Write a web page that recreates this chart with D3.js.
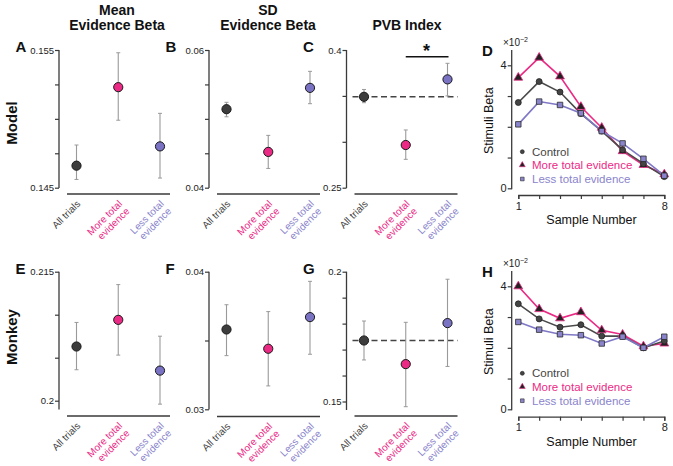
<!DOCTYPE html>
<html><head><meta charset="utf-8">
<script src="https://cdn.jsdelivr.net/npm/d3@7"></script>
<style>
body{margin:0;background:#fff;}
text{font-family:"Liberation Sans",Arial,Helvetica,sans-serif;}
</style></head>
<body><svg id="c" width="673" height="466"></svg>
<script>
// ---------- data ----------
const categories = ["All trials", "More total evidence", "Less total evidence"];
const categoryLines = [["All trials"], ["More total", "evidence"], ["Less total", "evidence"]];

const modelMean   = [0.1466, 0.1523, 0.1480];
const modelMeanLo = [0.1456, 0.1499, 0.1457];
const modelMeanHi = [0.1481, 0.1548, 0.1504];

const modelSD   = [0.0514, 0.0452, 0.0545];
const modelSDLo = [0.0503, 0.0428, 0.0522];
const modelSDHi = [0.0524, 0.0476, 0.0569];

const modelPVB   = [0.349, 0.2965, 0.368];
const modelPVBLo = [0.3426, 0.2809, 0.350];
const modelPVBHi = [0.357, 0.3129, 0.3855];

const monkeyMean   = [0.2063, 0.2094, 0.2035];
const monkeyMeanLo = [0.2036, 0.2053, 0.1996];
const monkeyMeanHi = [0.2091, 0.2135, 0.2075];

const monkeySD   = [0.0358, 0.0344, 0.0367];
const monkeySDLo = [0.0339, 0.0317, 0.0340];
const monkeySDHi = [0.0376, 0.0371, 0.0393];

const monkeyPVB   = [0.1735, 0.1644, 0.1802];
const monkeyPVBLo = [0.166, 0.148, 0.1635];
const monkeyPVBHi = [0.181, 0.1805, 0.1971];

const samples = [1, 2, 3, 4, 5, 6, 7, 8];
const seriesNames = ["Control", "More total evidence", "Less total evidence"];
// values in units of 1e-2
const modelControl = [2.79, 3.47, 3.13, 2.43, 1.86, 1.25, 0.80, 0.38];
const modelMore    = [3.60, 4.25, 3.64, 2.65, 1.97, 1.21, 0.76, 0.455];
const modelLess    = [2.08, 2.82, 2.71, 2.44, 1.86, 1.46, 0.96, 0.41];
const monkeyControl = [3.43, 2.94, 2.67, 2.75, 2.38, 2.38, 2.00, 2.22];
const monkeyMore    = [4.00, 3.26, 2.96, 3.16, 2.57, 2.43, 2.05, 2.14];
const monkeyLess    = [2.84, 2.59, 2.44, 2.41, 2.14, 2.36, 2.00, 2.36];

const yTicksA = [0.145, 0.1475, 0.15, 0.1525, 0.155], yLabA = ["0.145","","","","0.155"];
const yTicksB = [0.04, 0.045, 0.05, 0.055, 0.06], yLabB = ["0.04","","","","0.06"];
const yTicksC = [0.25, 0.3, 0.35, 0.4], yLabC = ["0.25","","","0.4"];
const yTicksE = [0.2, 0.205, 0.21, 0.215], yLabE = ["0.2","","","0.215"];
const yTicksF = [0.03, 0.035, 0.04], yLabF = ["0.03","","0.04"];
const yTicksG = [0.15, 0.16, 0.17, 0.18, 0.19, 0.2], yLabG = ["0.15","","","","","0.2"];
const lineTicks = [0, 1, 2, 3, 4], lineTickLab = ["0","","","","4"];

// ---------- styles ----------
const colDark = "#3d3d3d", colPink = "#ea2a84", colPurple = "#7a72c2";
const txtColors = ["#444", "#ec2a86", "#8a84cc"];
const fills = [colDark, colPink, colPurple];
const axisCol = "#3a3a3a";

const svg = d3.select("#c");

function dotPanel(o) {
  const g = svg.append("g");
  const y = d3.scaleLinear().domain(o.dom).range(o.rng);
  const x = d3.scalePoint().domain(categories).range([o.ax + 17.5, o.ax + 101]);
  const ax = d3.axisLeft(y).tickValues(o.ticks).tickSize(4)
    .tickFormat((d, i) => o.labs[i]);
  const ag = g.append("g").attr("transform", `translate(${o.ax},0)`).call(ax);
  ag.select(".domain").remove();
  ag.selectAll("line").attr("stroke", axisCol).attr("stroke-width", 1.2);
  ag.selectAll("text").attr("font-size", 9.5).attr("fill", "#222").attr("x", -5);
  g.append("line").attr("x1", o.ax).attr("x2", o.ax)
    .attr("y1", o.rng[1]).attr("y2", o.axBottom)
    .attr("stroke", axisCol).attr("stroke-width", 1.3);
  g.append("line").attr("x1", o.ax + 8).attr("x2", o.ax + 111)
    .attr("y1", o.xl).attr("y2", o.xl).attr("stroke", axisCol).attr("stroke-width", 1.3);
  categories.forEach((c, i) => {
    const t = g.append("text")
      .attr("transform", `translate(${x(c) + 2},${o.xl + 8}) rotate(-45)`)
      .attr("text-anchor", "end").attr("font-size", 10).attr("fill", txtColors[i]);
    categoryLines[i].forEach((ln, j) => {
      t.append("tspan").attr("x", 0).attr("dy", j === 0 ? "0.35em" : "1.05em").text(ln);
    });
  });
  if (o.dash) {
    g.append("line").attr("x1", o.ax + 6).attr("x2", o.ax + 111)
      .attr("y1", y(o.vals[0])).attr("y2", y(o.vals[0]))
      .attr("stroke", "#444").attr("stroke-width", 1.6).attr("stroke-dasharray", "6,3.5");
  }
  categories.forEach((c, i) => {
    const cx = x(c);
    g.append("line").attr("x1", cx).attr("x2", cx).attr("y1", y(o.lo[i])).attr("y2", y(o.hi[i]))
      .attr("stroke", "#9a9a9a").attr("stroke-width", 1.1);
    [o.lo[i], o.hi[i]].forEach(v => g.append("line").attr("x1", cx - 2).attr("x2", cx + 2)
      .attr("y1", y(v)).attr("y2", y(v)).attr("stroke", "#9a9a9a").attr("stroke-width", 1));
  });
  g.selectAll("circle.pt").data(o.vals).join("circle").attr("class", "pt")
    .attr("cx", (d, i) => x(categories[i])).attr("cy", d => y(d)).attr("r", 4.6)
    .attr("fill", (d, i) => fills[i]).attr("stroke", "#1a1a1a").attr("stroke-width", 1);
  svg.append("text").attr("x", o.ax - 43.5).attr("y", o.rng[1] + 2).attr("font-size", 15)
    .attr("font-weight", "bold").attr("fill", "#111").text(o.letter);
  return {x, y};
}

dotPanel({letter: "A", ax: 59, dom: [0.145, 0.155], rng: [187.7, 50], axBottom: 188, xl: 194,
  ticks: yTicksA, labs: yLabA, vals: modelMean, lo: modelMeanLo, hi: modelMeanHi});
dotPanel({letter: "B", ax: 209, dom: [0.04, 0.06], rng: [187.7, 50], axBottom: 188, xl: 194,
  ticks: yTicksB, labs: yLabB, vals: modelSD, lo: modelSDLo, hi: modelSDHi});
const pc = dotPanel({letter: "C", ax: 346.5, dom: [0.25, 0.4], rng: [187.7, 50], axBottom: 188, xl: 194,
  ticks: yTicksC, labs: yLabC, vals: modelPVB, lo: modelPVBLo, hi: modelPVBHi, dash: true});
dotPanel({letter: "E", ax: 59, dom: [0.2, 0.215], rng: [400.7, 271.7], axBottom: 409.5, xl: 416,
  ticks: yTicksE, labs: yLabE, vals: monkeyMean, lo: monkeyMeanLo, hi: monkeyMeanHi});
dotPanel({letter: "F", ax: 209, dom: [0.03, 0.04], rng: [409.3, 271.7], axBottom: 409.5, xl: 416.5,
  ticks: yTicksF, labs: yLabF, vals: monkeySD, lo: monkeySDLo, hi: monkeySDHi});
dotPanel({letter: "G", ax: 346.5, dom: [0.15, 0.2], rng: [401.5, 271.7], axBottom: 410, xl: 416,
  ticks: yTicksG, labs: yLabG, vals: monkeyPVB, lo: monkeyPVBLo, hi: monkeyPVBHi, dash: true});

const sx1 = pc.x(categories[1]), sx2 = pc.x(categories[2]);
svg.append("line").attr("x1", sx1).attr("x2", sx2 + 1).attr("y1", 56.7).attr("y2", 56.7)
  .attr("stroke", "#111").attr("stroke-width", 1.5);
svg.append("text").attr("x", (sx1 + sx2) / 2).attr("y", 57).attr("text-anchor", "middle")
  .attr("font-size", 18).attr("font-weight", "bold").attr("fill", "#111").text("*");

[["Mean", "Evidence Beta", 117], ["SD", "Evidence Beta", 268], [null, "PVB Index", 407]].forEach(t => {
  if (t[0]) svg.append("text").attr("x", t[2]).attr("y", 15).attr("text-anchor", "middle")
    .attr("font-size", 14).attr("font-weight", "bold").attr("fill", "#111").text(t[0]);
  svg.append("text").attr("x", t[2]).attr("y", 29.5).attr("text-anchor", "middle")
    .attr("font-size", 14).attr("font-weight", "bold").attr("fill", "#111").text(t[1]);
});
[["Model", 123], ["Monkey", 337]].forEach(r => {
  svg.append("text").attr("transform", `translate(16.5,${r[1]}) rotate(-90)`)
    .attr("text-anchor", "middle").attr("font-size", 15).attr("font-weight", "bold")
    .attr("fill", "#111").text(r[0]);
});

function linePanel(o) {
  const g = svg.append("g");
  const x = d3.scaleLinear().domain([1, 8]).range([518.3, 664.3]);
  const y = d3.scaleLinear().domain([0, 4.5]).range([o.y0, o.y0 - 4.5 * 30.75]);
  const ax = d3.axisLeft(y).tickValues(lineTicks).tickSize(4).tickFormat((d, i) => lineTickLab[i]);
  const ag = g.append("g").attr("transform", "translate(511.7,0)").call(ax);
  ag.select(".domain").remove();
  ag.selectAll("line").attr("stroke", axisCol).attr("stroke-width", 1.2);
  ag.selectAll("text").attr("font-size", 11).attr("fill", "#222").attr("x", -5);
  g.append("line").attr("x1", 511.7).attr("x2", 511.7).attr("y1", y(4.5)).attr("y2", y(0) + 1)
    .attr("stroke", axisCol).attr("stroke-width", 1.3);
  const xa = d3.axisBottom(x).tickValues(samples).tickSize(4)
    .tickFormat(d => (d === 1 || d === 8) ? String(d) : "");
  const xg = g.append("g").attr("transform", `translate(0,${o.xl})`).call(xa);
  xg.select(".domain").attr("stroke", axisCol).attr("stroke-width", 1.3);
  xg.selectAll("line").attr("stroke", axisCol).attr("stroke-width", 1.2);
  xg.selectAll("text").attr("font-size", 11).attr("fill", "#222");
  const m = g.append("text").attr("x", 503).attr("y", y(4.5) - 4).attr("font-size", 10).attr("fill", "#222");
  m.append("tspan").text("×10");
  m.append("tspan").attr("dy", -4).attr("font-size", 7).text("−2");
  g.append("text").attr("x", 591.5).attr("y", o.xl + 29).attr("text-anchor", "middle")
    .attr("font-size", 12.5).attr("fill", "#111").text("Sample Number");
  g.append("text").attr("transform", `translate(492.5,${y(2.2)}) rotate(-90)`)
    .attr("text-anchor", "middle").attr("font-size", 12.5).attr("fill", "#111").text("Stimuli Beta");
  const line = d3.line().x((d, i) => x(samples[i])).y(d => y(d));
  const series = [
    {v: o.more, c: colPink, sym: d3.symbolTriangle, fill: "#222", stroke: colPink, size: 34},
    {v: o.control, c: "#4a4a4a", sym: d3.symbolCircle, fill: "#444", stroke: "#222", size: 28},
    {v: o.less, c: "#7f78c6", sym: d3.symbolSquare, fill: "#8a84cc", stroke: "#2a2a2a", size: 30}
  ];
  [0, 1, 2].forEach(k => {
    const s = series[k];
    g.append("path").datum(s.v).attr("d", line).attr("fill", "none")
      .attr("stroke", s.c).attr("stroke-width", 1.6);
  });
  [0, 1, 2].forEach(k => {
    const s = series[k];
    g.selectAll(null).data(s.v).join("path")
      .attr("transform", (d, i) => `translate(${x(samples[i])},${y(d)})`)
      .attr("d", d3.symbol().type(s.sym).size(s.size))
      .attr("fill", s.fill).attr("stroke", s.stroke).attr("stroke-width", 0.8);
  });
  const leg = [series[1], series[0], series[2]];
  leg.forEach((s, i) => {
    const ly = o.legY[i];
    g.append("path").attr("transform", `translate(522.3,${ly})`)
      .attr("d", d3.symbol().type(s.sym).size(s.size * 0.45))
      .attr("fill", s.fill).attr("stroke", s.stroke).attr("stroke-width", 0.6);
    g.append("text").attr("x", 532).attr("y", ly).attr("dy", "0.35em").attr("font-size", 11.5)
      .attr("fill", txtColors[i]).text(seriesNames[i]);
  });
  svg.append("text").attr("x", 482).attr("y", y(4.5) + 6).attr("font-size", 15)
    .attr("font-weight", "bold").attr("fill", "#111").text(o.letter);
}
linePanel({letter: "D", y0: 188.3, xl: 195, control: modelControl, more: modelMore, less: modelLess,
  legY: [151.7, 165, 179]});
linePanel({letter: "H", y0: 409.3, xl: 416.7, control: monkeyControl, more: monkeyMore, less: monkeyLess,
  legY: [373.3, 386.7, 400.7]});
</script></body></html>
